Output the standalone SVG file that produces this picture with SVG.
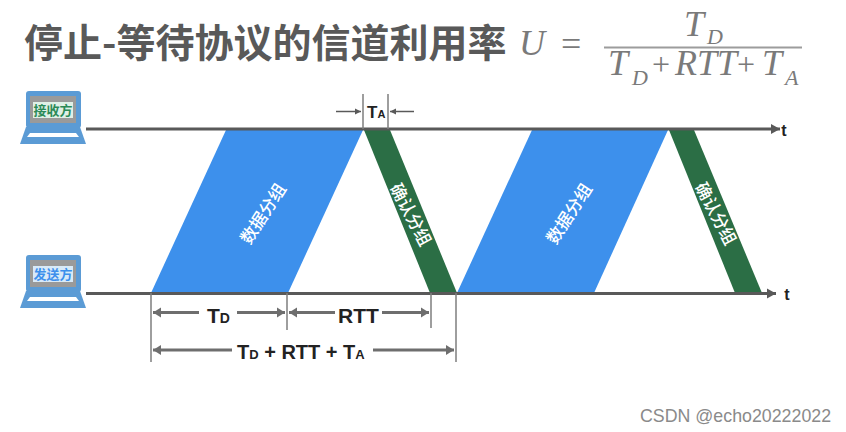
<svg xmlns="http://www.w3.org/2000/svg" width="846" height="432" viewBox="0 0 846 432">
<style>
.cjk{font-family:"Noto Sans CJK SC","Liberation Sans",sans-serif}
.b{font-family:"Liberation Sans",sans-serif;font-weight:700;fill:#222}
.f{font-family:"Liberation Serif",serif;font-style:italic;fill:#7a7a7a}
.op{font-style:normal}
.axis{stroke:#595959;stroke-width:3;fill:none}
.dim{stroke:#6e6e6e;stroke-width:3;fill:none;marker-end:url(#de)}
.tick{stroke:#7f7f7f;stroke-width:1.5;fill:none}
.thin{stroke:#595959;stroke-width:1.5;fill:none;marker-end:url(#dt)}
.blue{fill:#3d90ec}.green{fill:#2b6e45}
.lap{fill:#5b9bd5}
.lapin{fill:#9a9a9a}
.lapk{fill:#fff}
.pkt{fill:#fff;font-size:17px;font-weight:500}
</style>
<defs>
<marker id="ax" markerUnits="userSpaceOnUse" markerWidth="10" markerHeight="12" refX="9" refY="6" orient="auto"><path d="M0 1L9 6L0 11Z" fill="#595959"/></marker>
<marker id="de" markerUnits="userSpaceOnUse" markerWidth="9" markerHeight="12" refX="8" refY="6" orient="auto"><path d="M0 1L8 6L0 11Z" fill="#6e6e6e"/></marker>
<marker id="dt" markerUnits="userSpaceOnUse" markerWidth="7" markerHeight="8" refX="6" refY="4" orient="auto"><path d="M0 1L6 4L0 7Z" fill="#595959"/></marker>
</defs>
<rect width="846" height="432" fill="#fff"/>
<g id="title"><text class="cjk" x="24" y="57" font-size="39" font-weight="700" fill="#595959">停止-等待协议的信道利用率</text></g>
<g id="formula">
<text class="f" x="519" y="55" font-size="36">U</text>
<text class="f op" x="561" y="56" font-size="36">=</text>
<text class="f" x="684" y="36" font-size="36">T</text>
<text class="f" x="707" y="44" font-size="22">D</text>
<path d="M604 47.500H802" stroke="#9c9c9c" stroke-width="2"/>
<text class="f" x="608" y="75" font-size="36">T</text>
<text class="f" x="632" y="85" font-size="22">D</text>
<text class="f op" x="652" y="75" font-size="32">+</text>
<text class="f" x="675" y="75" font-size="36" textLength="62">RTT</text>
<text class="f op" x="737" y="75" font-size="32">+</text>
<text class="f" x="762" y="75" font-size="36">T</text>
<text class="f" x="785" y="85" font-size="22">A</text>
</g>
<g id="packets">
<path class="blue" d="M226 130H363L288 293H151Z"/>
<path class="green" d="M364 130H390L457 293H430Z"/>
<path class="blue" d="M532 130H668L594 293H457Z"/>
<path class="green" d="M669 130H694L762 293H735Z"/>
</g>
<g id="connectors">
<path class="axis" d="M86 129H780" marker-end="url(#ax)"/>
<path class="axis" d="M86 293.500H776" marker-end="url(#ax)"/>
<path class="tick" d="M363 94V129M388 94V129M151 293V362M287 293V330M431 293V328M456 293V362"/>
<path class="thin" d="M336 111.500H361"/>
<path class="thin" d="M414 111.500H390"/>
<path class="dim" d="M199 312.500H153"/>
<path class="dim" d="M237 312.500H285"/>
<path class="dim" d="M335 312.500H289"/>
<path class="dim" d="M382 312.500H429"/>
<path class="dim" d="M232 350H153"/>
<path class="dim" d="M373 350H454"/>
</g>
<g id="data-packet-1"><text class="cjk pkt" transform="translate(262 213) rotate(-57)" text-anchor="middle" dominant-baseline="central">数据分组</text></g>
<g id="ack-packet-1"><text class="cjk pkt" transform="translate(412 214) rotate(62)" text-anchor="middle" dominant-baseline="central">确认分组</text></g>
<g id="data-packet-2"><text class="cjk pkt" transform="translate(568 213) rotate(-57)" text-anchor="middle" dominant-baseline="central">数据分组</text></g>
<g id="ack-packet-2"><text class="cjk pkt" transform="translate(717 213) rotate(62)" text-anchor="middle" dominant-baseline="central">确认分组</text></g>
<g id="receiver">
<rect class="lap" x="26" y="91" width="55" height="37" rx="3"/>
<rect class="lapin" x="30" y="96" width="46" height="27"/>
<path class="lap" d="M26 127H80L86 144H20Z"/>
<path class="lapk" d="M30 133H76L79 137H27Z"/>
<rect x="33" y="102" width="40" height="16" fill="#dff0e6"/>
<text class="cjk" x="53" y="115" font-size="13" font-weight="700" fill="#2b8a57" text-anchor="middle">接收方</text>
</g>
<g id="sender">
<rect class="lap" x="26" y="255" width="55" height="37" rx="3"/>
<rect class="lapin" x="30" y="260" width="46" height="27"/>
<path class="lap" d="M26 291H80L86 308H20Z"/>
<path class="lapk" d="M30 297H76L79 301H27Z"/>
<rect x="33" y="266" width="40" height="16" fill="#d8eaf8"/>
<text class="cjk" x="53" y="279" font-size="13" font-weight="700" fill="#3d90ec" text-anchor="middle">发送方</text>
</g>
<g id="labels">
<text class="b" x="784" y="136" font-size="16" text-anchor="middle">t</text>
<text class="b" x="787" y="300" font-size="16" text-anchor="middle">t</text>
<text class="b" x="367" y="118" font-size="17">T<tspan font-size="11">A</tspan></text>
<text class="b" x="207" y="323" font-size="21">T<tspan font-size="14">D</tspan></text>
<text class="b" x="338" y="323" font-size="21">RTT</text>
<text class="b" x="237" y="359" font-size="20">T<tspan font-size="13">D</tspan> + RTT + T<tspan font-size="13">A</tspan></text>
</g>
<g id="watermark"><text x="640" y="422" font-family="Liberation Sans,sans-serif" font-size="17.800" fill="#8a8a8a">CSDN @echo20222022</text></g>
</svg>
